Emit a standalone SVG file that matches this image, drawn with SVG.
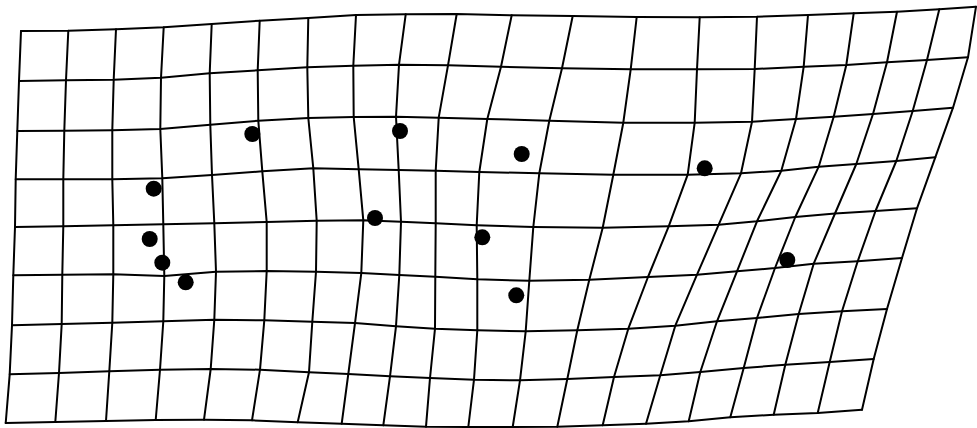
<svg xmlns="http://www.w3.org/2000/svg" width="977" height="428" viewBox="0 0 977 428">
<style>
.g{fill:none;stroke:#000;stroke-width:2;stroke-linejoin:round;stroke-linecap:round}
.d{fill:#000}
</style>
<rect width="977" height="428" fill="#fff"/>
<g id="rows" class="g">
<polyline points="21,31 68.3,30.7 116,29.3 163.7,27.3 211.7,24 259.7,20.7 308.3,18 356,15 405.7,14.3 456.7,14 511.7,15.3 572.7,16 636.7,17 699.7,17.3 757,16.7 808,15 853.7,13.3 897,11.7 939.3,9.3 976,6.7"/>
<polyline points="19,81 66,80.3 113.7,79.7 161,77.7 209.7,73.3 257.7,70.3 307.3,67.3 353.3,65.7 399,64.7 448,65.3 501,66.7 562,68.3 630.7,69.3 697,69.3 754.7,69 803.7,66.7 846.3,65 887,62.3 927,60 968,57.3"/>
<polyline points="17.3,131 64.3,130.7 112.3,130.3 160.3,129 210.3,124.7 258.3,120.7 308.3,118 353.7,117 396,116.7 438.7,117.7 487.3,119 549.3,120.7 623.3,122.7 694.7,122.7 752,121.7 796,119 833.7,116.7 873,114 912.7,111 953,107.7"/>
<polyline points="15.7,179.3 63.3,179.3 112.3,179.3 162.3,178.3 212,175 262.3,171.3 313.3,168.3 358.7,169.3 398.7,170 435.7,170.7 479.3,172 539.3,173.3 613.3,174.7 687.7,174.7 741,173.3 781.3,170.7 818.7,166.7 856.3,164 896.3,161 935.3,157.3"/>
<polyline points="15,227 63.3,226.3 113.3,225.3 163.3,224.3 214.3,223.3 266.7,222 316.7,220.7 363.3,220.3 401,221.7 435.7,223.3 476.7,225.3 533.3,227 602.7,227.7 668.7,226.3 718.7,224.7 757,221.3 795.3,217 835,213.5 875.5,211 917,208.3"/>
<polyline points="13.3,275.3 62.3,274.7 113.3,274.3 164.3,276 216,271.7 266.7,271 316,271.7 361.3,273 399.3,275 435.3,276.7 477.3,279.3 529.3,280.7 589.3,279.7 648,277 697,274.7 737,271.3 775,268 813.7,263.7 857.7,261.3 902,258"/>
<polyline points="12,325.3 61.7,324 112.3,322.7 163.3,321.3 214.3,319.7 264.3,320.3 312.3,321.7 355,323 396,326.3 435,328.7 477.3,330.3 525.7,331.3 577.3,330.3 628.3,328.7 675.3,325.7 717,321.3 757,318 798.7,314 842,311.3 887,309"/>
<polyline points="9.7,374.3 59,373 109.3,371.3 160,369.7 210.7,369 260,369.7 309,372.3 348.3,374 390,376.3 430,378 474,379.7 520,380.3 567.3,379 614,377 660.3,375.3 700.3,372 743.7,368 785.3,364.7 829.7,362 873.7,359"/>
<polyline points="5.7,423 55.3,422 106,421 155.7,420 204,419.7 252,420.3 297.7,422.3 341.7,423.7 383.3,425.3 426,426.7 468.3,427 512.7,427 557.3,426.7 602.7,425.3 646,423.7 688.7,421.3 730.3,417.3 773.7,414.7 817.7,413 862,409.7"/>
</g>
<g id="columns" class="g">
<polyline points="21,31 19,81 17.3,131 15.7,179.3 15,227 13.3,275.3 12,325.3 9.7,374.3 5.7,423"/>
<polyline points="68.3,30.7 66,80.3 64.3,130.7 63.3,179.3 63.3,226.3 62.3,274.7 61.7,324 59,373 55.3,422"/>
<polyline points="116,29.3 113.7,79.7 112.3,130.3 112.3,179.3 113.3,225.3 113.3,274.3 112.3,322.7 109.3,371.3 106,421"/>
<polyline points="163.7,27.3 161,77.7 160.3,129 162.3,178.3 163.3,224.3 164.3,276 163.3,321.3 160,369.7 155.7,420"/>
<polyline points="211.7,24 209.7,73.3 210.3,124.7 212,175 214.3,223.3 216,271.7 214.3,319.7 210.7,369 204,419.7"/>
<polyline points="259.7,20.7 257.7,70.3 258.3,120.7 262.3,171.3 266.7,222 266.7,271 264.3,320.3 260,369.7 252,420.3"/>
<polyline points="308.3,18 307.3,67.3 308.3,118 313.3,168.3 316.7,220.7 316,271.7 312.3,321.7 309,372.3 297.7,422.3"/>
<polyline points="356,15 353.3,65.7 353.7,117 358.7,169.3 363.3,220.3 361.3,273 355,323 348.3,374 341.7,423.7"/>
<polyline points="405.7,14.3 399,64.7 396,116.7 398.7,170 401,221.7 399.3,275 396,326.3 390,376.3 383.3,425.3"/>
<polyline points="456.7,14 448,65.3 438.7,117.7 435.7,170.7 435.7,223.3 435.3,276.7 435,328.7 430,378 426,426.7"/>
<polyline points="511.7,15.3 501,66.7 487.3,119 479.3,172 476.7,225.3 477.3,279.3 477.3,330.3 474,379.7 468.3,427"/>
<polyline points="572.7,16 562,68.3 549.3,120.7 539.3,173.3 533.3,227 529.3,280.7 525.7,331.3 520,380.3 512.7,427"/>
<polyline points="636.7,17 630.7,69.3 623.3,122.7 613.3,174.7 602.7,227.7 589.3,279.7 577.3,330.3 567.3,379 557.3,426.7"/>
<polyline points="699.7,17.3 697,69.3 694.7,122.7 687.7,174.7 668.7,226.3 648,277 628.3,328.7 614,377 602.7,425.3"/>
<polyline points="757,16.7 754.7,69 752,121.7 741,173.3 718.7,224.7 697,274.7 675.3,325.7 660.3,375.3 646,423.7"/>
<polyline points="808,15 803.7,66.7 796,119 781.3,170.7 757,221.3 737,271.3 717,321.3 700.3,372 688.7,421.3"/>
<polyline points="853.7,13.3 846.3,65 833.7,116.7 818.7,166.7 795.3,217 775,268 757,318 743.7,368 730.3,417.3"/>
<polyline points="897,11.7 887,62.3 873,114 856.3,164 835,213.5 813.7,263.7 798.7,314 785.3,364.7 773.7,414.7"/>
<polyline points="939.3,9.3 927,60 912.7,111 896.3,161 875.5,211 857.7,261.3 842,311.3 829.7,362 817.7,413"/>
<polyline points="976,6.7 968,57.3 953,107.7 935.3,157.3 917,208.3 902,258 887,309 873.7,359 862,409.7"/>
</g>
<g id="points" class="d">
<circle cx="252.3" cy="134" r="8"/>
<circle cx="400" cy="131" r="8"/>
<circle cx="521.7" cy="154" r="8"/>
<circle cx="704.7" cy="168.3" r="8"/>
<circle cx="153.7" cy="188.7" r="8"/>
<circle cx="375" cy="218" r="8"/>
<circle cx="149.7" cy="239" r="8"/>
<circle cx="482.3" cy="237.3" r="8"/>
<circle cx="162.3" cy="262.7" r="8"/>
<circle cx="185.7" cy="282.3" r="8"/>
<circle cx="516.3" cy="295.3" r="8"/>
<circle cx="787.3" cy="260" r="8"/>
</g>
</svg>
